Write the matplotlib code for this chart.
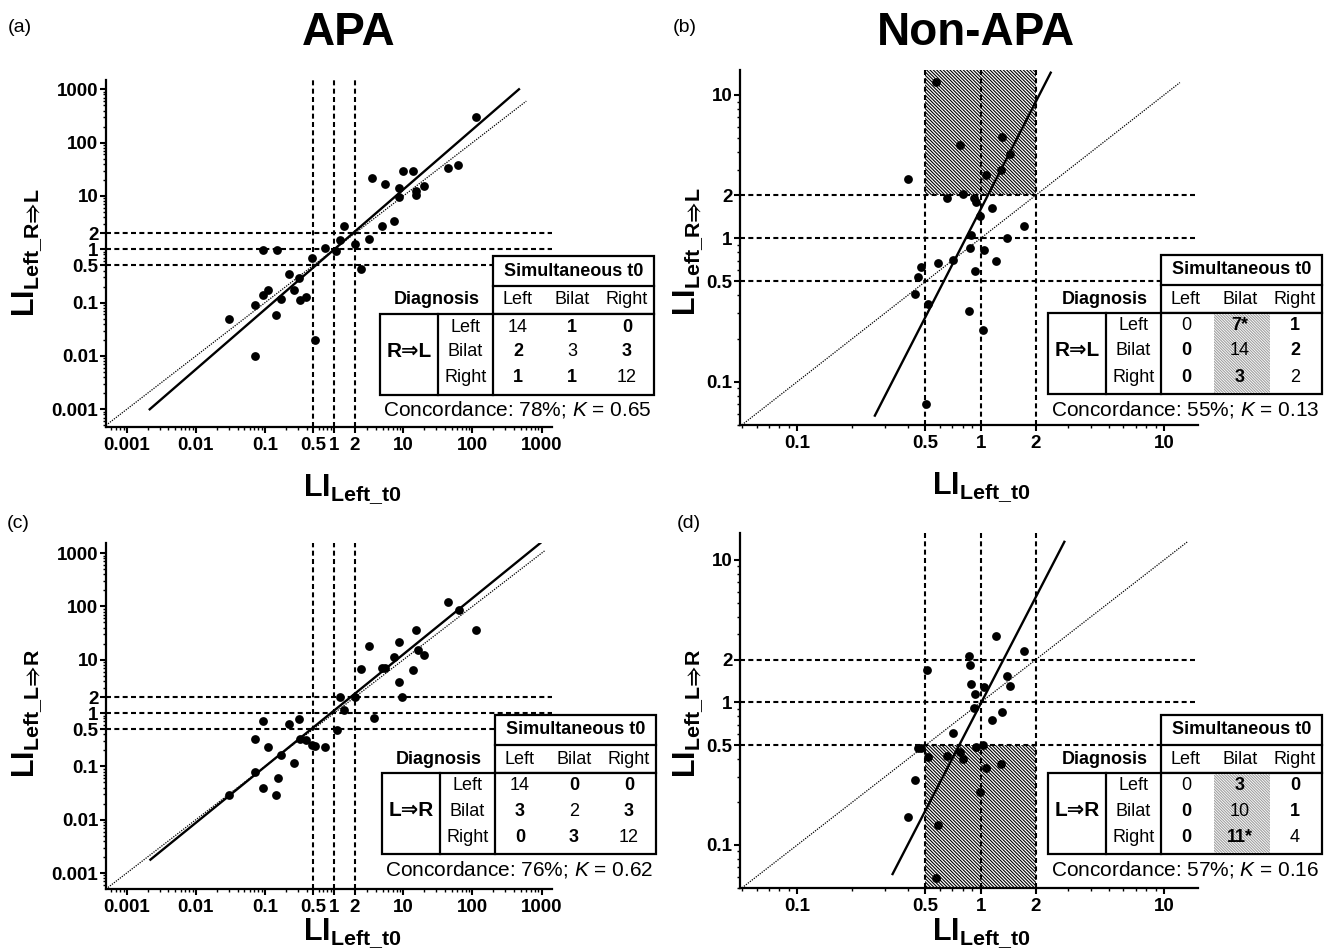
import numpy as np
import matplotlib
matplotlib.use('Agg')
import matplotlib.pyplot as plt
from matplotlib.patches import Rectangle
from matplotlib.lines import Line2D
from matplotlib.ticker import LogLocator, NullFormatter

plt.rcParams['font.family'] = ['Liberation Sans', 'DejaVu Sans']
plt.rcParams['mathtext.fontset'] = 'custom'
plt.rcParams['mathtext.rm'] = 'Liberation Sans'
plt.rcParams['mathtext.bf'] = 'Liberation Sans:bold'
plt.rcParams['mathtext.it'] = 'Liberation Sans:italic'
plt.rcParams['mathtext.fallback'] = 'stixsans'
plt.rcParams['hatch.linewidth'] = 0.8

# === data ===
# (a) APA, R=>L vs simultaneous t0
a_t0 = [112, 3.5, 5.4, 9.8, 13.7, 43.8, 62, 8.7, 8.7, 15.2, 15.2, 19.8, 7.3, 4.9,
        1.38, 3.14, 1.2, 2.0, 0.735, 1.07, 0.092, 0.15, 0.48, 2.41, 0.22, 0.31,
        0.11, 0.092, 0.258, 0.17, 0.323, 0.387, 0.0716, 0.142, 0.0306, 0.526, 0.0705]
a_rl = [299, 21.4, 16.5, 29, 29.9, 34, 38.7, 14.3, 9.7, 12.4, 10.4, 15.1, 3.45, 2.78,
        2.74, 1.56, 1.47, 1.28, 1.07, 0.93, 0.97, 0.96, 0.68, 0.434, 0.34, 0.286,
        0.17, 0.139, 0.17, 0.119, 0.111, 0.128, 0.089, 0.059, 0.05, 0.02, 0.01]
# (b) Non-APA, R=>L
b_t0 = [0.568, 0.769, 1.30, 1.44, 1.29, 1.07, 0.402, 0.659, 0.798, 0.916, 0.94, 1.15,
        1.73, 0.99, 0.886, 1.40, 0.877, 1.04, 0.707, 1.22, 0.586, 0.474, 0.457, 0.93,
        0.436, 0.516, 0.859, 1.03, 0.502]
b_rl = [12.4, 4.48, 5.12, 3.86, 3.0, 2.77, 2.6, 1.90, 2.05, 1.90, 1.80, 1.63,
        1.21, 1.44, 1.06, 1.0, 0.85, 0.83, 0.703, 0.695, 0.676, 0.628, 0.537, 0.589,
        0.407, 0.347, 0.311, 0.228, 0.07]
# (c) APA, L=>R
c_t0 = [43.8, 63, 112, 15.2, 3.14, 8.8, 16.3, 20.1, 7.3, 2.41, 4.9, 5.4, 13.6, 8.7,
        9.7, 1.2, 2.0, 1.38, 3.8, 0.092, 0.314, 0.22, 1.09, 0.0705, 0.323, 0.387,
        0.112, 0.48, 0.526, 0.726, 0.17, 0.262, 0.0705, 0.152, 0.092, 0.142, 0.0306]
c_lr = [119, 86.6, 36, 36, 17.8, 21.4, 15.4, 12.2, 11.2, 6.7, 7.1, 7.1, 6.5, 3.8,
        1.97, 2.0, 1.97, 1.14, 0.82, 0.70, 0.79, 0.62, 0.487, 0.33, 0.33, 0.316,
        0.23, 0.248, 0.237, 0.23, 0.166, 0.115, 0.077, 0.06, 0.039, 0.029, 0.029]
# (d) Non-APA, L=>R
d_t0 = [1.22, 1.73, 0.859, 0.877, 0.508, 1.39, 1.44, 0.886, 1.04, 0.93, 0.916, 1.30,
        1.15, 0.707, 0.457, 0.474, 0.94, 1.03, 0.516, 0.659, 0.769, 0.798, 1.07, 1.29,
        0.436, 0.99, 0.402, 0.586, 0.568]
d_lr = [2.93, 2.31, 2.12, 1.83, 1.68, 1.53, 1.31, 1.35, 1.29, 1.15, 0.915, 0.863,
        0.759, 0.614, 0.477, 0.477, 0.49, 0.503, 0.412, 0.421, 0.447, 0.399, 0.345, 0.368,
        0.286, 0.237, 0.158, 0.138, 0.059]

# regression lines (end points) and identity line ends
fit_a_x, fit_a_y = [0.00215, 470], [0.001, 1000]
fit_b_x, fit_b_y = [0.265, 2.41], [0.058, 14.3]
fit_c_x, fit_c_y = [0.0022, 955], [0.00178, 1540]
fit_d_x, fit_d_y = [0.331, 2.86], [0.0625, 13.4]
diag_end = [600, 12.2, 1100, 13.4]

cutoffs = [0.5, 1, 2]
apa_ticks = [0.001, 0.01, 0.1, 0.5, 1, 2, 10, 100, 1000]
apa_labels = ['0.001', '0.01', '0.1', '0.5', '1', '2', '10', '100', '1000']
non_ticks = [0.1, 0.5, 1, 2, 10]
non_labels = ['0.1', '0.5', '1', '2', '10']

# shaded discordant zones (x range, y range; None = axis edge)
shade_b = [0.5, 2, 2, None]
shade_d = [0.5, 2, None, 0.5]

# concordance tables
table_cols = ['Left', 'Bilat', 'Right']
tab_a = [['14', '1', '0'], ['2', '3', '3'], ['1', '1', '12']]
tab_b = [['0', '7*', '1'], ['0', '14', '2'], ['0', '3', '2']]
tab_c = [['14', '0', '0'], ['3', '2', '3'], ['0', '3', '12']]
tab_d = [['0', '3', '0'], ['0', '10', '1'], ['0', '11*', '4']]
conc = ['78%', '55%', '76%', '57%']
kappa = ['0.65', '0.13', '0.62', '0.16']

# === figure ===
W, H = 1328, 951
fig = plt.figure(figsize=(W / 100, H / 100), dpi=100)


def fx(px):
    return px / W


def fy(py):
    return 1 - py / H


def make_axes(l, t, r, b, xlim, ylim, xt, xl, yt, yl):
    ax = fig.add_axes([fx(l), fy(b), (r - l) / W, (b - t) / H])
    ax.set_xscale('log')
    ax.set_yscale('log')
    ax.set_xlim(*xlim)
    ax.set_ylim(*ylim)
    for s in ['top', 'right']:
        ax.spines[s].set_visible(False)
    for s in ['left', 'bottom']:
        ax.spines[s].set_linewidth(1.6)
    ax.set_xticks(xt, xl, fontweight='bold')
    ax.set_yticks(yt, yl, fontweight='bold')
    for axis in [ax.xaxis, ax.yaxis]:
        axis.set_minor_locator(LogLocator(base=10, subs=np.arange(2, 10) * 1.0, numticks=60))
        axis.set_minor_formatter(NullFormatter())
    ax.tick_params(which='major', direction='out', length=4.5, width=1.5, labelsize=13.5)
    ax.tick_params(which='minor', direction='out', length=2.5, width=1.0)
    ax.tick_params(axis='x', which='major', pad=3)
    ax.tick_params(axis='y', which='major', pad=1)
    for v in cutoffs:
        ax.axhline(v, color='black', lw=1.5, ls=(0, (2.4, 1.6)), zorder=2)
        ax.axvline(v, color='black', lw=1.5, ls=(0, (2.4, 1.6)), zorder=2)
    return ax


def shade(ax, zone):
    x0, x1, y0, y1 = zone
    lo, hi = ax.get_ylim()
    y0 = lo if y0 is None else y0
    y1 = hi if y1 is None else y1
    ax.add_patch(Rectangle((x0, y0), x1 - x0, y1 - y0, facecolor='white',
                           edgecolor='black', lw=0, hatch='\\' * 10, zorder=1))


def draw_points(ax, x, y, fx_, fy_, dend):
    lo = ax.get_xlim()[0]
    ax.plot([lo, dend], [lo, dend], color='black', lw=0.9, ls=(0, (1.0, 1.0)), zorder=3)
    ax.plot(fx_, fy_, color='black', lw=1.7, zorder=3)
    ax.scatter(x, y, s=40, c='black', linewidths=0, zorder=4)


def draw_table(x0, y0, arrow, counts, cval, kval, hatch_bilat):
    lw = 1.6
    c1, c2, c3 = x0 + 58, x0 + 113, x0 + 274
    r1, r2, r3 = y0 + 30, y0 + 58, y0 + 139

    def rect(xa, ya, xb, yb, **kw):
        fig.add_artist(Rectangle((fx(xa), fy(yb)), (xb - xa) / W, (yb - ya) / H,
                                 transform=fig.transFigure, **kw))

    def line(xs, ys):
        fig.add_artist(Line2D([fx(v) for v in xs], [fy(v) for v in ys],
                              transform=fig.transFigure, color='black', lw=lw))

    rect(c2, y0, c3, r2, facecolor='white', edgecolor='black', lw=lw)
    rect(x0, r2, c3, r3, facecolor='white', edgecolor='black', lw=lw)
    if hatch_bilat:
        rect(c2 + 53, r2 + 1, c2 + 109, r3 - 1, facecolor='white', edgecolor='#a0a0a0',
             lw=0, hatch='\\' * 12)
    line([c2, c3], [r1, r1])
    line([c1, c1], [r2, r3])
    line([c2, c2], [r2, r3])

    def txt(px, py, s, **kw):
        fig.text(fx(px), fy(py), s, ha='center', va='center', **kw)

    col_x = [c2 + 25, c2 + 79, c2 + 134]
    row_y = [r2 + 13, r2 + 38, r2 + 64]
    txt((c2 + c3) / 2, (y0 + r1) / 2, 'Simultaneous t0', fontsize=13, fontweight='bold')
    txt((x0 + c2) / 2, (r1 + r2) / 2, 'Diagnosis', fontsize=13, fontweight='bold')
    for cx, name in zip(col_x, table_cols):
        txt(cx, (r1 + r2) / 2, name, fontsize=13)
    txt((x0 + c1) / 2, row_y[1], arrow, fontsize=15, fontweight='bold')
    for i, name in enumerate(table_cols):
        txt((c1 + c2) / 2, row_y[i], name, fontsize=13)
        for j in range(3):
            txt(col_x[j], row_y[i], counts[i][j], fontsize=13,
                fontweight='normal' if i == j else 'bold')
    txt((x0 + c3) / 2, r3 + 15, 'Concordance: %s; $K$ = %s' % (cval, kval), fontsize=15)


# panel axes (pixel boxes: left, top, right, bottom)
apa_xlim = (10 ** -3.3, 10 ** 3.15)
non_xlim = (10 ** -1.312, 10 ** 1.185)

ax_a = make_axes(106, 80, 552, 427, apa_xlim, (10 ** -3.332, 10 ** 3.174),
                 apa_ticks, apa_labels, apa_ticks, apa_labels)
ax_b = make_axes(740, 70, 1198, 425, non_xlim, (10 ** -1.302, 10 ** 1.174),
                 non_ticks, non_labels, non_ticks, non_labels)
ax_c = make_axes(106, 543, 552, 889, apa_xlim, (10 ** -3.30, 10 ** 3.19),
                 apa_ticks, apa_labels, apa_ticks, apa_labels)
ax_d = make_axes(740, 533, 1198, 888, non_xlim, (10 ** -1.302, 10 ** 1.189),
                 non_ticks, non_labels, non_ticks, non_labels)

shade(ax_b, shade_b)
shade(ax_d, shade_d)

draw_points(ax_a, a_t0, a_rl, fit_a_x, fit_a_y, diag_end[0])
draw_points(ax_b, b_t0, b_rl, fit_b_x, fit_b_y, diag_end[1])
draw_points(ax_c, c_t0, c_lr, fit_c_x, fit_c_y, diag_end[2])
draw_points(ax_d, d_t0, d_lr, fit_d_x, fit_d_y, diag_end[3])

draw_table(380, 256, 'R⇒L', tab_a, conc[0], kappa[0], False)
draw_table(1048, 255, 'R⇒L', tab_b, conc[1], kappa[1], True)
draw_table(382, 715, 'L⇒R', tab_c, conc[2], kappa[2], False)
draw_table(1048, 715, 'L⇒R', tab_d, conc[3], kappa[3], True)

# titles and panel letters
fig.text(fx(349), fy(45), 'APA', fontsize=33, fontweight='bold', ha='center', va='baseline')
fig.text(fx(976), fy(45), 'Non-APA', fontsize=33, fontweight='bold', ha='center', va='baseline')
for lab, px, py in [('(a)', 8, 32), ('(b)', 673, 32), ('(c)', 7, 528), ('(d)', 677, 528)]:
    fig.text(fx(px), fy(py), lab, fontsize=14, ha='left', va='baseline')

xlab = r'$\mathbf{LI}_{\mathbf{Left\_t0}}$'
ylab_rl = r'$\mathbf{LI}_{\mathbf{Left\_R⇒L}}$'
ylab_lr = r'$\mathbf{LI}_{\mathbf{Left\_L⇒R}}$'
for px, py in [(352, 489), (981, 487), (352, 933), (981, 933)]:
    fig.text(fx(px), fy(py), xlab, fontsize=22, ha='center', va='center')
for px, py, s in [(27, 252, ylab_rl), (688, 251, ylab_rl), (27, 713, ylab_lr), (688, 713, ylab_lr)]:
    fig.text(fx(px), fy(py), s, fontsize=22, rotation=90, ha='center', va='center')

fig.savefig('out.png', dpi=100)
